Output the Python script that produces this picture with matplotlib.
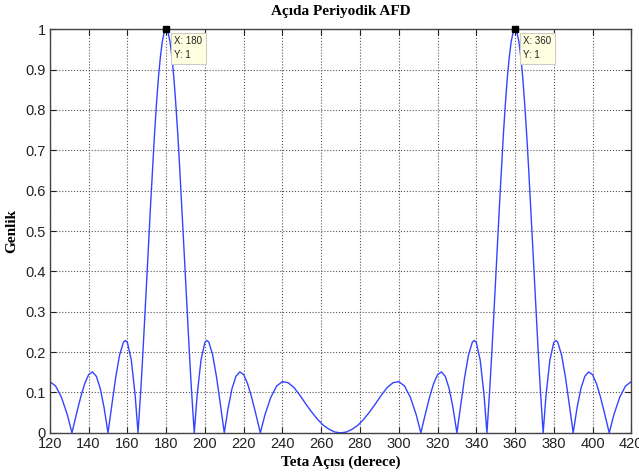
import matplotlib
matplotlib.use("Agg")
import matplotlib.pyplot as plt

# values
teta = [120, 123, 126, 129, 131.4, 134, 136, 138, 140, 142, 144, 146, 148, 150,
        152, 154, 156, 158, 159, 160, 162, 164, 165.5, 167, 168, 169, 170, 171,
        172, 173, 174, 175, 176, 177, 178, 179, 180,
        181, 182, 183, 184, 185, 186, 187, 188, 189, 190, 191, 192, 193, 194.5,
        196, 198, 200, 201, 202, 204, 206, 208, 210, 212, 214, 216, 218, 220,
        222, 224, 226, 228.6, 231, 234, 237, 240, 243, 246, 249, 252, 255, 258,
        261, 264, 267, 270,
        273, 276, 279, 282, 285, 288, 291, 294, 297, 300, 303, 306, 309, 311.4,
        314, 316, 318, 320, 322, 324, 326, 328, 330, 332, 334, 336, 338, 339,
        340, 342, 344, 345.5, 347, 348, 349, 350, 351, 352, 353, 354, 355, 356,
        357, 358, 359, 360,
        361, 362, 363, 364, 365, 366, 367, 368, 369, 370, 371, 372, 373, 374.5,
        376, 378, 380, 381, 382, 384, 386, 388, 390, 392, 394, 396, 398, 400,
        402, 404, 406, 408.6, 411, 414, 417, 420]
genlik = [0.127, 0.116, 0.088, 0.045, 0.0, 0.052, 0.090, 0.122, 0.144, 0.151,
          0.140, 0.110, 0.062, 0.0, 0.070, 0.138, 0.193, 0.225, 0.229, 0.224,
          0.181, 0.094, 0.0, 0.112, 0.197, 0.287, 0.380, 0.474, 0.567, 0.656,
          0.740, 0.814, 0.879, 0.930, 0.969, 0.992, 1.000,
          0.992, 0.969, 0.930, 0.879, 0.814, 0.740, 0.656, 0.567, 0.474, 0.380,
          0.287, 0.197, 0.112, 0.0, 0.094, 0.181, 0.224, 0.229, 0.225, 0.193,
          0.138, 0.070, 0.0, 0.062, 0.110, 0.140, 0.151, 0.144, 0.122, 0.090,
          0.052, 0.0, 0.045, 0.088, 0.116, 0.127, 0.124, 0.112, 0.093, 0.072,
          0.052, 0.034, 0.019, 0.009, 0.002, 0.0,
          0.002, 0.009, 0.019, 0.034, 0.052, 0.072, 0.093, 0.112, 0.124, 0.127,
          0.116, 0.088, 0.045, 0.0, 0.052, 0.090, 0.122, 0.144, 0.151, 0.140,
          0.110, 0.062, 0.0, 0.070, 0.138, 0.193, 0.225, 0.229, 0.224, 0.181,
          0.094, 0.0, 0.112, 0.197, 0.287, 0.380, 0.474, 0.567, 0.656, 0.740,
          0.814, 0.879, 0.930, 0.969, 0.992, 1.000,
          0.992, 0.969, 0.930, 0.879, 0.814, 0.740, 0.656, 0.567, 0.474, 0.380,
          0.287, 0.197, 0.112, 0.0, 0.094, 0.181, 0.224, 0.229, 0.225, 0.193,
          0.138, 0.070, 0.0, 0.062, 0.110, 0.140, 0.151, 0.144, 0.122, 0.090,
          0.052, 0.0, 0.045, 0.088, 0.116, 0.127]

# data tips
tip_x = [180, 360]
tip_y = [1, 1]

xticks = list(range(120, 421, 20))
yticks = [0, 0.1, 0.2, 0.3, 0.4, 0.5, 0.6, 0.7, 0.8, 0.9, 1]
ytick_labels = ["0", "0.1", "0.2", "0.3", "0.4", "0.5", "0.6", "0.7", "0.8", "0.9", "1"]

fig = plt.figure(figsize=(6.39, 4.72), dpi=100)
ax = fig.add_axes([0.078, 0.083, 0.910, 0.855])

ax.plot(teta, genlik, color="#3344ff", linewidth=1.0)

ax.set_xlim(120, 420)
ax.set_ylim(0, 1)
ax.set_xticks(xticks)
ax.set_yticks(yticks)
ax.set_yticklabels(ytick_labels)
ax.grid(True, linestyle=":", color="#555555", linewidth=0.8)
ax.tick_params(direction="in", top=True, right=True, length=4,
               labelsize=10.5, colors="#222222", pad=3)
for lab in ax.get_xticklabels() + ax.get_yticklabels():
    lab.set_family("Liberation Sans")
for s in ax.spines.values():
    s.set_color("#444444")
    s.set_linewidth(1.0)

ax.set_title("Açıda Periyodik AFD", family="Liberation Serif", fontweight="bold",
             fontsize=11, pad=10)
ax.set_xlabel("Teta Açısı (derece)", family="Liberation Serif", fontweight="bold",
              fontsize=11, labelpad=3)
ax.set_ylabel("Genlik", family="Liberation Serif", fontweight="bold",
              fontsize=11, labelpad=5)

for tx, ty in zip(tip_x, tip_y):
    ax.plot(tx, ty, marker="s", color="black", markersize=5, clip_on=False, zorder=5)
    ax.annotate("X: %d\nY: %d" % (tx, ty), xy=(tx, ty), xytext=(6, -5),
                textcoords="offset points", ha="left", va="top",
                fontsize=7, family="Liberation Sans", color="#222222",
                linespacing=1.5,
                bbox=dict(boxstyle="square,pad=0.35", facecolor="#ffffe1",
                          edgecolor="#cccccc", linewidth=0.8), zorder=6)

fig.savefig("out.png", dpi=100)
